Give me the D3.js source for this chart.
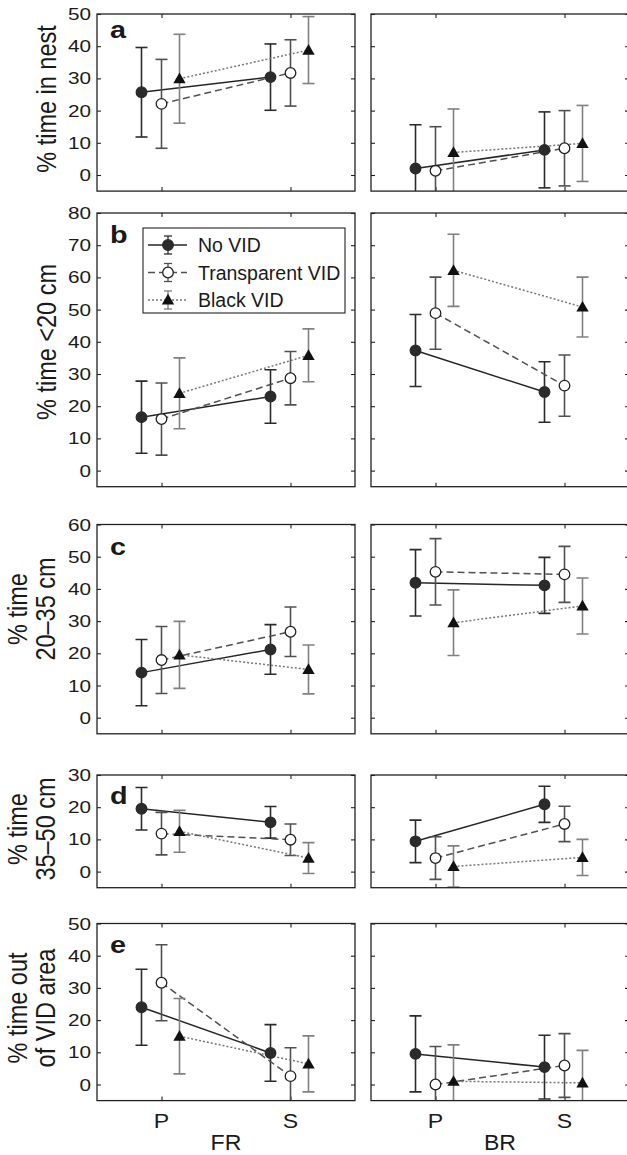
<!DOCTYPE html>
<html>
<head>
<meta charset="utf-8">
<script src="https://cdn.jsdelivr.net/npm/d3@7"></script>
<style>
  body { margin: 0; background: #fff; }
  svg { display: block; }
  text { font-family: "Liberation Sans", Arial, Helvetica, sans-serif; fill: #1a1a1a; }
</style>
</head>
<body>
<svg id="chart" width="627" height="1155"></svg>
<script>
// groups, phases and regions
var groups = ["No VID", "Transparent VID", "Black VID"];
var phases = ["P", "S"];
var regions = ["FR", "BR"];

// values are [region][group][phase]  (region: FR, BR / phase: P, S)
// a: % time in nest
var nestMean = [[[25.7, 30.4], [22.1, 31.7], [29.9, 38.8]], [[2.0, 7.8], [1.3, 8.3], [7.0, 9.8]]];
var nestErr  = [[[13.9, 10.3], [13.8, 10.3], [13.8, 10.4]], [[13.6, 11.8], [13.7, 11.7], [13.5, 11.8]]];
// b: % time <20 cm
var nearMean = [[[16.6, 23.0], [16.0, 28.7], [24.0, 35.8]], [[37.3, 24.4], [48.9, 26.4], [62.2, 50.8]]];
var nearErr  = [[[11.2, 8.3], [11.2, 8.3], [11.0, 8.2]], [[11.2, 9.4], [11.2, 9.5], [11.2, 9.3]]];
// c: % time 20-35 cm
var midMean = [[[14.0, 21.2], [17.9, 26.7], [19.5, 15.0]], [[41.9, 41.1], [45.3, 44.5], [29.5, 34.7]]];
var midErr  = [[[10.3, 7.7], [10.4, 7.7], [10.4, 7.6]], [[10.3, 8.7], [10.3, 8.7], [10.2, 8.7]]];
// d: % time 35-50 cm
var farMean = [[[19.5, 15.3], [11.8, 9.9], [12.5, 4.2]], [[9.4, 20.9], [4.2, 14.8], [1.6, 4.4]]];
var farErr  = [[[6.6, 4.9], [6.6, 4.9], [6.5, 4.8]], [[6.6, 5.6], [6.6, 5.5], [6.4, 5.6]]];
// e: % time out of VID area
var outMean = [[[24.0, 9.8], [31.6, 2.6], [15.0, 6.4]], [[9.5, 5.4], [0.0, 5.9], [1.0, 0.5]]];
var outErr  = [[[11.8, 8.8], [11.8, 8.8], [11.7, 8.7]], [[11.8, 9.9], [11.8, 9.9], [11.3, 10.1]]];

var panels = [
  { letter: "a", max: 50, top: 14,    mean: nestMean, err: nestErr, label: ["% time in nest"], labelY: 99,  letterY: 24 },
  { letter: "b", max: 80, top: 213,   mean: nearMean, err: nearErr, label: ["% time <20 cm"],  labelY: 342, letterY: 30 },
  { letter: "c", max: 60, top: 524.5, mean: midMean,  err: midErr,  label: ["% time", "20\u201335 cm"], labelY: 609, letterY: 30 },
  { letter: "d", max: 30, top: 775,   mean: farMean,  err: farErr,  label: ["% time", "35\u201350 cm"], labelY: 829, letterY: 29 },
  { letter: "e", max: 50, top: 923.5, mean: outMean,  err: outErr,  label: ["% time out", "of VID area"], labelY: 1008, letterY: 29 }
];

// look of each group
var style = [
  { line: "#262626", dash: null,  bar: "#2b2b2b", fill: "#2b2b2b", stroke: "#2b2b2b", shape: "circle" },
  { line: "#505050", dash: "7,4", bar: "#505050", fill: "#ffffff", stroke: "#222222", shape: "circle" },
  { line: "#777777", dash: "2,2", bar: "#808080", fill: "#111111", stroke: "#111111", shape: "triangle" }
];
var dodge = [-20, 0, 18];

var pxPerUnit = 3.22;
var panelLeft = [97, 371];
var panelW = 258;
var x = d3.scaleLinear().domain([0.5, 2.5]).range([0, panelW]);

var svg = d3.select("#chart");

function txt(sel, str, px, py, size, sx, anchor, rot, weight) {
  var t = "translate(" + px + "," + py + ") scale(" + sx + ",1)";
  if (rot) t += " rotate(" + rot + ")";
  return sel.append("text")
    .attr("transform", t)
    .attr("text-anchor", anchor)
    .attr("font-size", size)
    .attr("font-weight", weight || "normal")
    .text(str);
}

function drawMarker(sel, gi, cx, cy) {
  var s = style[gi];
  if (s.shape === "circle") {
    sel.append("circle").attr("cx", cx).attr("cy", cy).attr("r", 5.3)
      .attr("fill", s.fill).attr("stroke", s.stroke).attr("stroke-width", 1.3);
  } else {
    sel.append("path")
      .attr("d", d3.symbol(d3.symbolTriangle, 66)())
      .attr("transform", "translate(" + cx + "," + (cy + 1) + ")")
      .attr("fill", s.fill);
  }
}

panels.forEach(function (p, pi) {
  var h = (p.max + 5) * pxPerUnit;
  var y = d3.scaleLinear().domain([-5, p.max]).range([h, 0]);
  var ticks = d3.range(0, p.max + 1, 10);

  regions.forEach(function (reg, r) {
    var g = svg.append("g").attr("transform", "translate(" + panelLeft[r] + "," + p.top + ")");
    var clipId = "clip-" + pi + "-" + r;
    g.append("clipPath").attr("id", clipId)
      .append("rect").attr("width", panelW).attr("height", h);

    // inward ticks on all four sides
    var axes = [
      [d3.axisLeft(y).tickValues(ticks), 0, 0],
      [d3.axisRight(y).tickValues(ticks), panelW, 0],
      [d3.axisTop(x).tickValues([1, 2]), 0, 0],
      [d3.axisBottom(x).tickValues([1, 2]), 0, h]
    ];
    axes.forEach(function (a) {
      var ag = g.append("g").attr("transform", "translate(" + a[1] + "," + a[2] + ")")
        .call(a[0].tickSize(-4).tickFormat(""));
      ag.select(".domain").remove();
      ag.selectAll(".tick line").attr("stroke", "#222").attr("stroke-width", 1.1);
    });

    var plot = g.append("g").attr("clip-path", "url(#" + clipId + ")");

    groups.forEach(function (grp, gi) {
      var s = style[gi];
      var pts = phases.map(function (ph, k) {
        return { x: x(k + 1) + dodge[gi], m: p.mean[r][gi][k], e: p.err[r][gi][k] };
      });
      // error bars
      pts.forEach(function (d) {
        var eb = plot.append("g").attr("stroke", s.bar).attr("stroke-width", 1.6);
        eb.append("line").attr("x1", d.x).attr("x2", d.x).attr("y1", y(d.m - d.e)).attr("y2", y(d.m + d.e));
        [d.m - d.e, d.m + d.e].forEach(function (v) {
          eb.append("line").attr("x1", d.x - 6).attr("x2", d.x + 6).attr("y1", y(v)).attr("y2", y(v));
        });
      });
      // connecting line
      plot.append("path")
        .datum(pts)
        .attr("d", d3.line().x(function (d) { return d.x; }).y(function (d) { return y(d.m); }))
        .attr("fill", "none")
        .attr("stroke", s.line)
        .attr("stroke-width", 1.5)
        .attr("stroke-dasharray", s.dash);
      pts.forEach(function (d) { drawMarker(g, gi, d.x, y(d.m)); });
    });

    g.append("rect").attr("width", panelW).attr("height", h)
      .attr("fill", "none").attr("stroke", "#222").attr("stroke-width", 1.3);

    if (r === 0) {
      ticks.forEach(function (t) {
        txt(g, t, -6, y(t) + 6, 17, 1.22, "end");
      });
      txt(g, p.letter, 13, p.letterY, 24, 1.2, "start", 0, "bold");
      // y label
      var n = p.label.length;
      p.label.forEach(function (line, li) {
        var lx = (n === 1 ? 48 : (li === 0 ? 19 : 47)) - panelLeft[0] + 8;
        txt(g, line, lx, p.labelY - p.top, 23.5, 1.2, "middle", -90);
      });
    }

    // legend in panel b
    if (pi === 1 && r === 0) {
      var lg = g.append("g").attr("transform", "translate(46,15)");
      lg.append("rect").attr("width", 202).attr("height", 85)
        .attr("fill", "#fff").attr("stroke", "#222").attr("stroke-width", 1.1);
      groups.forEach(function (grp, gi) {
        var s = style[gi];
        var ly = 17 + gi * 27.5;
        lg.append("line").attr("x1", 5).attr("x2", 44).attr("y1", ly).attr("y2", ly)
          .attr("stroke", s.line).attr("stroke-width", 1.4).attr("stroke-dasharray", s.dash);
        var eb = lg.append("g").attr("stroke", s.bar).attr("stroke-width", 1.3);
        eb.append("line").attr("x1", 25).attr("x2", 25).attr("y1", ly - 9).attr("y2", ly + 9);
        eb.append("line").attr("x1", 21).attr("x2", 29).attr("y1", ly - 9).attr("y2", ly - 9);
        eb.append("line").attr("x1", 21).attr("x2", 29).attr("y1", ly + 9).attr("y2", ly + 9);
        drawMarker(lg, gi, 25, ly);
        txt(lg, grp, 55, ly + 7, 19.5, 1, "start");
      });
    }

    // x tick labels and region names under the last panel
    if (pi === panels.length - 1) {
      phases.forEach(function (ph, k) {
        txt(g, ph, x(k + 1), h + 27, 21, 1.1, "middle");
      });
      txt(g, reg, panelW / 2, h + 49, 22, 1.05, "middle");
    }
  });
});
</script>
</body>
</html>
